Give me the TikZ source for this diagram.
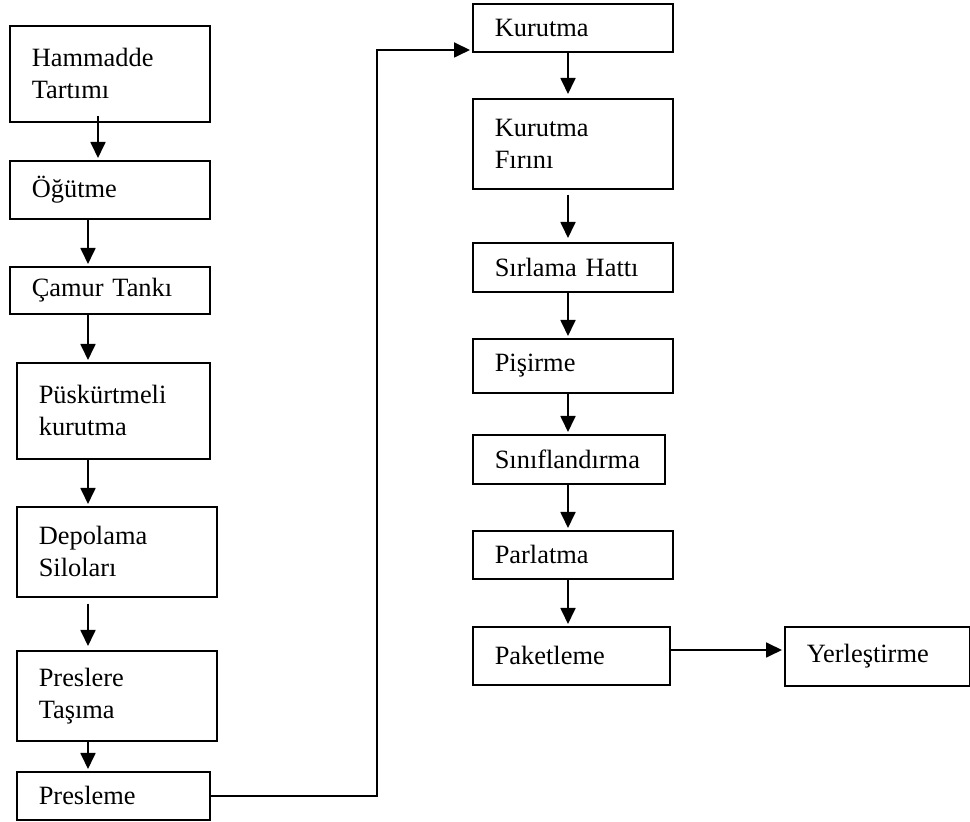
\documentclass[tikz,border=0pt]{standalone}
\usepackage{fontspec}
\setmainfont{Liberation Serif}
\usetikzlibrary{arrows.meta}

\begin{document}
\begin{tikzpicture}[x=0.5pt,y=-0.5pt,
	box/.style={draw,line width=0.8pt,anchor=north west,align=left,inner xsep=11pt,inner ysep=2pt,font=\fontsize{13.2}{16}\selectfont},
	arr/.style={line width=0.9pt,-{Triangle[length=8pt,width=7.5pt]},shorten >=1pt}]
	\useasboundingbox (0,0) rectangle (970,822);

	\coordinate (lc1) at (98,0);
	\coordinate (lc) at (88,0);
	\coordinate (rc) at (568,0);
	\coordinate (bend) at (377,50);
	\coordinate (pk) at (0,650);

	% left column
	\node[box,text width=78pt,minimum height=48pt] (hammadde) at (9,25) {Hammadde\\Tartımı};
	\node[box,text width=78pt,minimum height=29pt] (ogutme) at (9,160) {Öğütme};
	\node[box,text width=78pt,minimum height=23.5pt] (camur) at (9,266) {Çamur Tankı};
	\node[box,text width=74.5pt,minimum height=48pt] (puskurtme) at (16,362) {Püskürtmeli\\kurutma};
	\node[box,text width=78pt,minimum height=45pt] (depolama) at (16,506) {Depolama\\Siloları};
	\node[box,text width=78pt,minimum height=45pt] (preslere) at (16,650) {Preslere\\Taşıma};
	\node[box,text width=74.5pt,minimum height=24pt] (presleme) at (16,771) {Presleme};

	% right column
	\node[box,text width=78pt,minimum height=24pt] (kurutma) at (472,3) {Kurutma};
	\node[box,text width=78pt,minimum height=45pt] (firin) at (472,98) {Kurutma\\Fırını};
	\node[box,text width=78pt,minimum height=24.5pt] (sirlama) at (472,242) {Sırlama Hattı};
	\node[box,text width=78pt,minimum height=27pt] (pisirme) at (472,338) {Pişirme};
	\node[box,text width=74pt,minimum height=24.5pt] (sinif) at (472,434) {Sınıflandırma};
	\node[box,text width=78pt,minimum height=24pt] (parlatma) at (472,530) {Parlatma};
	\node[box,text width=76.5pt,minimum height=29pt] (paketleme) at (472,626) {Paketleme};
	\node[box,text width=70.5pt,minimum height=29.5pt] (yerlestirme) at (784,626) {Yerleştirme};

	% arrows
	\draw[arr,shorten <=-3.5pt] (hammadde.south -| lc1) -- (ogutme.north -| lc1);
	\foreach \a/\b in {ogutme/camur,camur/puskurtme,puskurtme/depolama,preslere/presleme}{
			\draw[arr] (\a.south -| lc) -- (\b.north -| lc);
		}
	\draw[arr,shorten <=3pt,shorten >=2pt] (depolama.south -| lc) -- (preslere.north -| lc);
	\draw[arr] (presleme.east) -| (bend) -- (bend -| kurutma.west);
	\draw[arr,shorten >=2pt] (kurutma.south -| rc) -- (firin.north -| rc);
	\draw[arr,shorten <=2.5pt,shorten >=2pt] (firin.south -| rc) -- (sirlama.north -| rc);
	\foreach \a/\b in {sirlama/pisirme,pisirme/sinif,sinif/parlatma,parlatma/paketleme}{
			\draw[arr] (\a.south -| rc) -- (\b.north -| rc);
		}
	\draw[arr] (paketleme.east |- pk) -- (yerlestirme.west |- pk);
\end{tikzpicture}
\end{document}
